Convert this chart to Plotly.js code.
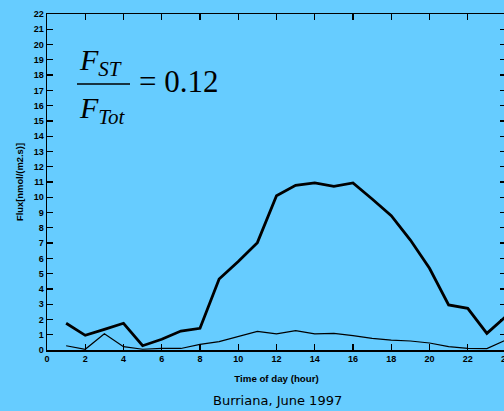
<!DOCTYPE html>
<html><head><meta charset="utf-8">
<script src="https://cdn.plot.ly/plotly-3.0.1.min.js"></script>
<style>html,body{margin:0;padding:0;overflow:hidden;background:#66ccff;}</style>
</head><body>
<div id="chart" style="width:512px;height:411px;"></div>
<script>
const hours = [1,2,3,4,5,6,7,8,9,10,11,12,13,14,15,16,17,18,19,20,21,22,23,24];
const fluxTotal = [1.75,0.96,1.35,1.75,0.28,0.7,1.24,1.42,4.65,5.8,7.03,10.1,10.78,10.94,10.72,10.94,9.89,8.8,7.2,5.35,2.95,2.73,1.09,2.2];
const fluxST = [0.28,0.05,1.07,0.22,0.05,0.1,0.1,0.37,0.55,0.87,1.22,1.05,1.27,1.05,1.09,0.94,0.76,0.65,0.59,0.46,0.22,0.11,0.09,0.65];
const xTicks = [0,2,4,6,8,10,12,14,16,18,20,22,24];
const yTicks = [0,1,2,3,4,5,6,7,8,9,10,11,12,13,14,15,16,17,18,19,20,21,22];
const xTitle = 'Time of day (hour)';
const yTitle = 'Flux[nmol/(m2.s)]';
const caption = 'Burriana, June 1997';

const bg = '#66ccff';
const tickFont = {family:'Liberation Sans, Arial, sans-serif', size:9, color:'#000', weight:'bold'};
const axisCommon = {
  showgrid:false, zeroline:false, showline:true, linecolor:'#000', linewidth:1.5,
  ticks:'inside', ticklen:6, tickwidth:1.3, tickcolor:'#000', mirror:'ticks',
  tickfont:tickFont
};
const traces = [
  {x:hours, y:fluxTotal, mode:'lines', line:{color:'#000', width:2.8}, hoverinfo:'skip'},
  {x:hours, y:fluxST, mode:'lines', line:{color:'#000', width:1.2}, hoverinfo:'skip'}
];
const L=47, PW=459, B=61, PH=336;
const px = v => (v-L)/PW;
const py = v => (350-v)/PH;
const serif = 'Liberation Serif, Times New Roman, serif';
const layout = {
  width:512, height:411,
  margin:{l:L, r:512-L-PW, t:14, b:B},
  paper_bgcolor:bg, plot_bgcolor:bg, showlegend:false,
  xaxis:Object.assign({}, axisCommon, {range:[0,24], tickvals:xTicks, ticktext:xTicks.map(String),
    title:{text:xTitle, font:{family:'Liberation Sans, Arial, sans-serif', size:9.7, color:'#000', weight:'bold'}, standoff:12}}),
  yaxis:Object.assign({}, axisCommon, {range:[0,22], tickvals:yTicks, ticktext:yTicks.map(String),
    title:{text:yTitle, font:{family:'Liberation Sans, Arial, sans-serif', size:9.4, color:'#000', weight:'bold'}, standoff:8}}),
  shapes:[
    {type:'line', xref:'paper', yref:'paper', x0:px(77), x1:px(130), y0:py(84), y1:py(84), line:{color:'#000', width:1.5}}
  ],
  annotations:[
    {xref:'paper', yref:'paper', x:px(100), y:py(62), xanchor:'center', yanchor:'middle', showarrow:false,
     text:'<i>F<sub>ST</sub></i>', font:{family:serif, size:30, color:'#000'}},
    {xref:'paper', yref:'paper', x:px(102), y:py(110), xanchor:'center', yanchor:'middle', showarrow:false,
     text:'<i>F<sub>Tot</sub></i>', font:{family:serif, size:30, color:'#000'}},
    {xref:'paper', yref:'paper', x:px(137), y:py(82), xanchor:'left', yanchor:'middle', showarrow:false,
     text:'= 0.12', font:{family:serif, size:31, color:'#000'}},
    {xref:'paper', yref:'paper', x:px(277), y:py(401), xanchor:'center', yanchor:'middle', showarrow:false,
     text:caption, font:{family:'DejaVu Sans, sans-serif', size:13, color:'#000'}}
  ]
};
Plotly.newPlot('chart', traces, layout, {displayModeBar:false, staticPlot:true});
</script>
</body></html>
